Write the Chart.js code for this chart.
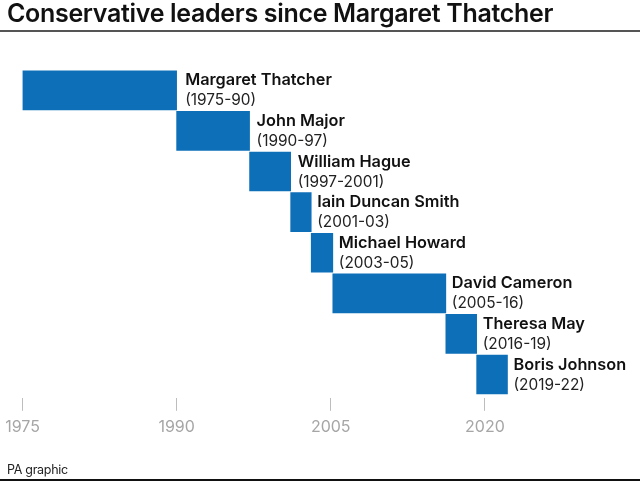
<!DOCTYPE html>
<html><head><meta charset="utf-8">
<script src="https://cdn.jsdelivr.net/npm/chart.js@4"></script>
<style>
html,body{margin:0;padding:0;background:#fff;width:640px;height:481px;overflow:hidden}
#wrap{position:relative;width:640px;height:481px}
#c{position:absolute;left:0;top:0}
h1{position:absolute;left:7px;top:-1px;margin:0;font:600 25px/28px Inter,"Liberation Sans",sans-serif;color:#111;white-space:nowrap;letter-spacing:-.32px}
#rule{position:absolute;left:0;top:30px;width:640px;height:2px;background:#555}
#src{position:absolute;left:7px;top:461px;font:400 12.5px/17px Inter,"Liberation Sans",sans-serif;color:#222;letter-spacing:-.3px}
#base{position:absolute;left:0;top:479px;width:640px;height:2px;background:#111}
</style></head><body>
<div id="wrap">
<canvas id="c" width="640" height="481"></canvas>
<h1>Conservative leaders since Margaret Thatcher</h1>
<div id="rule"></div>
<div id="src">PA graphic</div>
<div id="base"></div>
</div>
<script>
const leaders = ["Margaret Thatcher","John Major","William Hague","Iain Duncan Smith","Michael Howard","David Cameron","Theresa May","Boris Johnson"];
const periods = ["(1975-90)","(1990-97)","(1997-2001)","(2001-03)","(2003-05)","(2005-16)","(2016-19)","(2019-22)"];
const starts = [1975,1990,1997.1,2001.1,2003.1,2005.2,2016.2,2019.2];
const ends = [1990,1997.1,2001.1,2003.1,2005.2,2016.2,2019.2,2022.2];
const tickYears = [1975,1990,2005,2020];

const labelGaps = [8.5,7,7,6,6,6,6,6];
const labelPlugin = {
  id:'leaderLabels',
  afterDatasetsDraw(chart){
    const {ctx,scales:{x,y}} = chart;
    ctx.save();
    ctx.textBaseline='alphabetic';ctx.textAlign='left';
    leaders.forEach((name,i)=>{
      const px = x.getPixelForValue(ends[i])+labelGaps[i];
      const py = y.getPixelForValue(i);
      ctx.fillStyle='#111';
      ctx.font='600 16.3px Inter,"Liberation Sans",sans-serif';
      ctx.fillText(name,px,py-5);
      ctx.fillStyle='#222';
      ctx.font='400 15.4px Inter,"Liberation Sans",sans-serif';
      ctx.fillText(periods[i],px,py+15);
    });
    ctx.restore();
  }
};

new Chart(document.getElementById('c'),{
  type:'bar',
  data:{datasets:[{
    data:starts.map((s,i)=>({x:[s,ends[i]],y:i})),
    backgroundColor:'#0d6fb8',borderWidth:0,
    barThickness:39
  }]},
  options:{
    indexAxis:'y',responsive:false,animation:false,
    layout:{padding:{left:22.5,right:1,top:70,bottom:37}},
    plugins:{legend:{display:false},tooltip:{enabled:false},title:{display:false}},
    scales:{
      y:{type:'linear',display:false,offset:false,reverse:true,min:-0.5,max:7.573,grid:{display:false}},
      x:{
        type:'linear',min:1975,max:2035,
        afterBuildTicks(a){a.ticks=tickYears.map(v=>({value:v}));},
        afterFit(a){a.paddingLeft=0;a.paddingRight=0;},
        border:{display:false},
        grid:{drawOnChartArea:false,drawTicks:true,tickLength:13,color:'#bdbdbd',tickColor:'#bdbdbd',lineWidth:1,offset:false},
        ticks:{color:'#a6a6a6',font:{family:'Inter,"Liberation Sans",sans-serif',size:16},maxRotation:0,autoSkip:false,padding:7,callback:v=>String(v)}
      }
    }
  },
  plugins:[labelPlugin]
});
</script>
</body></html>
